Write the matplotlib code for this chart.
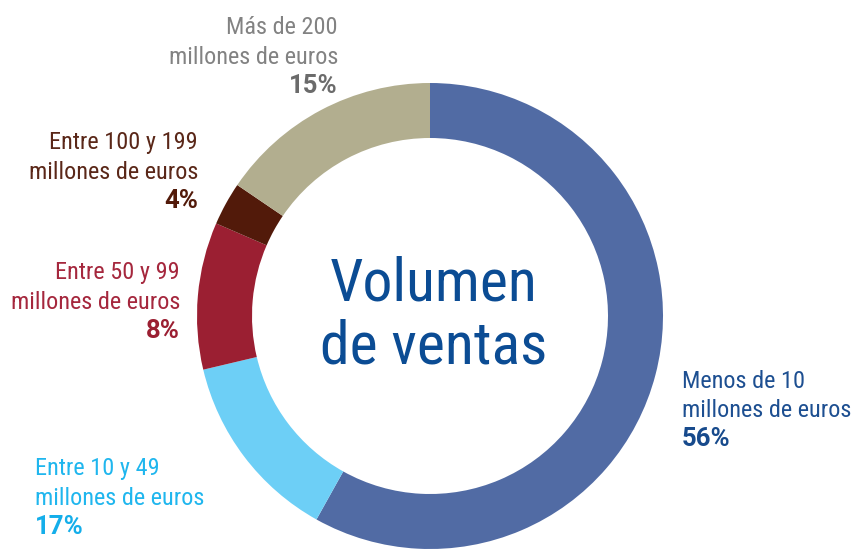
import matplotlib.pyplot as plt
from matplotlib import font_manager

# Data (ring arcs, labels as printed)
segments = ["Menos de 10", "Entre 10 y 49", "Entre 50 y 99", "Entre 100 y 199", "Más de 200"]
arc_share = [58.1, 13.2, 10.2, 3.0, 15.5]
pct_label = ["56%", "17%", "8%", "4%", "15%"]
ring_colors = ["#516ba4", "#6dcff6", "#9b1f32", "#521a0a", "#b2ae8f"]
text_colors = ["#1d4f91", "#1fb6ee", "#a5273d", "#5a2718", "#828282"]
pct_colors = ["#174a8c", "#14aeea", "#9b1f32", "#521a0a", "#6b6b6b"]

names = {f.name for f in font_manager.fontManager.ttflist}
FONT = next((n for n in ["Roboto Condensed", "Archivo Narrow", "Barlow Semi Condensed",
                         "Asap Condensed", "DejaVu Sans"] if n in names), "DejaVu Sans")
BOLD_FONT = "Roboto" if "Roboto" in names else FONT

W, H = 856, 554
fig = plt.figure(figsize=(W / 100, H / 100), dpi=100)
ax = fig.add_axes([0, 0, 1, 1])

cx, cy, r_out, r_in = 430, H - 316, 233, 178
ax.pie(arc_share, colors=ring_colors, startangle=90, counterclock=False,
       radius=r_out, center=(cx, cy), frame=True,
       wedgeprops=dict(width=r_out - r_in, linewidth=0))

ax.set_xlim(0, W)
ax.set_ylim(0, H)
ax.set_aspect("equal")
ax.axis("off")

ax.text(cx + 4, H - 284, "Volumen", ha="center", va="center", fontsize=43,
        color="#0b4c94", family=FONT)
ax.text(cx + 4, H - 347, "de ventas", ha="center", va="center", fontsize=43,
        color="#0b4c94", family=FONT)

# label anchors: (x, first-line y in px from top, ha)
label_pos = [
    (682, 381, "left"),
    (35, 469, "left"),
    (180, 273, "right"),
    (198, 143, "right"),
    (338, 28, "right"),
]
line_gap = 29.5
for i, (x, y, ha) in enumerate(label_pos):
    ax.text(x, H - y, segments[i], ha=ha, va="center", fontsize=17.5,
            color=text_colors[i], family=FONT)
    ax.text(x, H - y - line_gap, "millones de euros", ha=ha, va="center",
            fontsize=17.5, color=text_colors[i], family=FONT)
    ax.text(x, H - y - 2 * line_gap + 1, pct_label[i], ha=ha, va="center",
            fontsize=18.5, fontweight="bold", color=pct_colors[i], family=BOLD_FONT)

fig.savefig("out.png", dpi=100)
